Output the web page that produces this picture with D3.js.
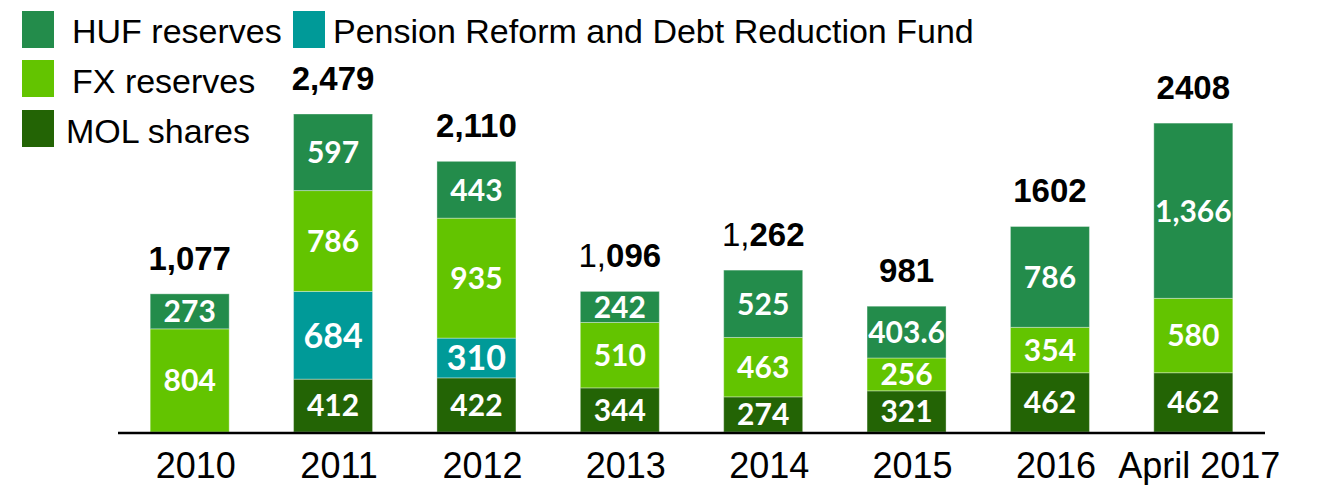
<!DOCTYPE html>
<html>
<head>
<meta charset="utf-8">
<script src="https://cdn.jsdelivr.net/npm/d3@7"></script>
<style>
  html, body { margin: 0; padding: 0; background: #ffffff; }
  svg { display: block; }
</style>
</head>
<body>
<svg id="chart" width="1317" height="485"></svg>
<script>
// ---- data ----
const categories = ["2010", "2011", "2012", "2013", "2014", "2015", "2016", "April 2017"];
const molShares   = [0, 412, 422, 344, 274, 321, 462, 462];
const pensionFund = [0, 684, 310, 0, 0, 0, 0, 0];
const fxReserves  = [804, 786, 935, 510, 463, 256, 354, 580];
const hufReserves = [273, 597, 443, 242, 525, 403.6, 786, 1366];
const totalLabels = ["1,077", "2,479", "2,110", "1,096", "1,262", "981", "1602", "2408"];
const totalPlainPrefix = ["", "", "", "1,", "1,", "", "", ""]; // regular-weight leading part
const seriesNames = ["MOL shares", "Pension Reform and Debt Reduction Fund", "FX reserves", "HUF reserves"];
const seriesKeys = ["mol", "pension", "fx", "huf"];

const colors = {
  mol: "#236405",
  pension: "#009a98",
  fx: "#63c400",
  huf: "#238c4b"
};

const rows = categories.map((c, i) => ({
  cat: c, mol: molShares[i], pension: pensionFund[i], fx: fxReserves[i], huf: hufReserves[i]
}));

const svg = d3.select("#chart");

const x = d3.scaleBand().domain(categories).range([118, 1265]).paddingInner(0.449).paddingOuter(0.2245);
const y = d3.scaleLinear().domain([0, 2479]).range([432, 114]);

const stack = d3.stack().keys(seriesKeys);
const layers = stack(rows);

const fmt = d3.format(",");

const g = svg.append("g");
layers.forEach(layer => {
  const key = layer.key;
  const lg = g.append("g");
  layer.forEach((d, i) => {
    const v = d[1] - d[0];
    if (v <= 0) return;
    const x0 = x(categories[i]);
    const yTop = y(d[1]), yBot = y(d[0]);
    lg.append("rect")
      .attr("x", x0).attr("y", yTop)
      .attr("width", x.bandwidth()).attr("height", yBot - yTop)
      .attr("fill", colors[key])
      .attr("stroke", "rgba(255,255,255,0.35)").attr("stroke-width", 1);
    lg.append("text")
      .attr("x", x0 + x.bandwidth() / 2)
      .attr("y", (yTop + yBot) / 2)
      .attr("dy", "0.36em")
      .attr("text-anchor", "middle")
      .attr("font-family", "Lato, 'Open Sans', sans-serif")
      .attr("font-weight", "bold")
      .attr("font-size", key === "pension" ? 34 : 30)
      .attr("fill", "#ffffff")
      .text(fmt(v));
  });
});

// totals
const totals = rows.map(r => r.mol + r.pension + r.fx + r.huf);
categories.forEach((c, i) => {
  const t = svg.append("text")
    .attr("x", x(c) + x.bandwidth() / 2)
    .attr("y", y(totals[i]) - 24)
    .attr("text-anchor", "middle")
    .attr("font-family", "'Liberation Sans', Arial, sans-serif")
    .attr("font-size", 33)
    .attr("fill", "#000");
  const pre = totalPlainPrefix[i];
  const full = totalLabels[i];
  if (pre) {
    t.append("tspan").attr("font-weight", "normal").text(pre);
    t.append("tspan").attr("font-weight", "bold").text(full.slice(pre.length));
  } else {
    t.append("tspan").attr("font-weight", "bold").text(full);
  }
});

// x axis
const axis = d3.axisBottom(x).tickSize(0).tickPadding(0);
const ax = svg.append("g").attr("transform", "translate(0,433)").call(axis);
ax.select(".domain").attr("stroke", "#000").attr("stroke-width", 2.5).attr("d", `M${x.range()[0]},0H${x.range()[1]}`);
ax.selectAll(".tick text")
  .attr("font-family", "'Liberation Sans', Arial, sans-serif")
  .attr("font-size", 36)
  .attr("fill", "#000")
  .attr("dy", null)
  .attr("x", 6)
  .attr("y", 45);

// legend
const legendItems = [
  { key: "huf", name: seriesNames[3], sx: 22, sy: 11, tx: 72, ty: 43 },
  { key: "pension", name: seriesNames[1], sx: 293, sy: 11, tx: 333, ty: 43 },
  { key: "fx", name: seriesNames[2], sx: 22, sy: 60, tx: 72, ty: 93 },
  { key: "mol", name: seriesNames[0], sx: 22, sy: 110, tx: 66, ty: 143 }
];
const leg = svg.append("g");
legendItems.forEach(it => {
  leg.append("rect").attr("x", it.sx).attr("y", it.sy).attr("width", 32).attr("height", 37).attr("fill", colors[it.key]);
  leg.append("text").attr("x", it.tx).attr("y", it.ty)
    .attr("font-family", "'Liberation Sans', Arial, sans-serif")
    .attr("font-size", 34).attr("fill", "#000").text(it.name);
});
</script>
</body>
</html>
